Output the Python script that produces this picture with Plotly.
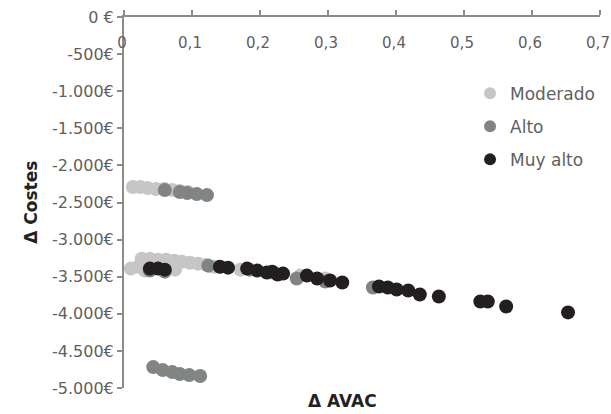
import plotly.graph_objects as go

# Data
mod_x = [0.013, 0.024, 0.035, 0.047, 0.059, 0.071, 0.082, 0.094,
         0.010, 0.021, 0.026, 0.038, 0.050, 0.062, 0.074, 0.085, 0.097, 0.109, 0.121,
         0.031, 0.075, 0.132, 0.171, 0.215, 0.259, 0.296]
mod_y = [-2292, -2292, -2306, -2319, -2319, -2333, -2346, -2359,
         -3391, -3365, -3257, -3257, -3271, -3271, -3284, -3298, -3311, -3324, -3338,
         -3418, -3405, -3365, -3405, -3445, -3485, -3525]

alto_x = [0.060, 0.082, 0.093, 0.107, 0.122,
          0.038, 0.060, 0.124, 0.185, 0.254, 0.296, 0.366,
          0.043, 0.057, 0.071, 0.082, 0.096, 0.112]
alto_y = [-2332, -2359, -2373, -2386, -2400,
          -3418, -3432, -3351, -3405, -3525, -3566, -3646,
          -4718, -4759, -4786, -4812, -4826, -4839]

muy_x = [0.038, 0.050, 0.060, 0.141, 0.153, 0.181, 0.196, 0.210, 0.218, 0.226, 0.234,
         0.269, 0.284, 0.303, 0.321, 0.375, 0.388, 0.401, 0.418, 0.435, 0.463,
         0.524, 0.535, 0.562, 0.653]
muy_y = [-3391, -3391, -3405, -3365, -3378, -3391, -3418, -3445, -3432, -3472, -3458,
         -3485, -3525, -3552, -3579, -3633, -3646, -3673, -3686, -3740, -3767,
         -3834, -3834, -3901, -3981]

x_ticks = [0, 0.1, 0.2, 0.3, 0.4, 0.5, 0.6, 0.7]
x_ticktext = ["0", "0,1", "0,2", "0,3", "0,4", "0,5", "0,6", "0,7"]
y_ticks = [0, -500, -1000, -1500, -2000, -2500, -3000, -3500, -4000, -4500, -5000]
y_ticktext = ["0 €", "-500€", "-1.000€", "-1.500€", "-2.000€", "-2.500€", "-3.000€",
              "-3.500€", "-4.000€", "-4.500€", "-5.000€"]

FONT = "DejaVu Sans"
TXT = "#5f5f5f"
AX = "#8c8c8c"

fig = go.Figure()
fig.add_trace(go.Scatter(x=mod_x, y=mod_y, mode="markers", name="Moderado", legendgroup="a",
                         marker=dict(size=14, color="#c6c6c6")))
fig.add_trace(go.Scatter(x=alto_x, y=alto_y, mode="markers", name="Alto", legendgroup="b",
                         marker=dict(size=14, color="#808482")))
fig.add_trace(go.Scatter(x=muy_x, y=muy_y, mode="markers", name="Muy alto", legendgroup="c",
                         marker=dict(size=14, color="#231f20")))

fig.update_layout(
    width=611, height=414,
    margin=dict(l=124, r=11, t=17, b=26, autoexpand=False),
    paper_bgcolor="white", plot_bgcolor="white",
    font=dict(family=FONT, color=TXT, size=16),
    showlegend=True,
    legend=dict(x=0.727, y=0.842, xanchor="left", yanchor="top",
                font=dict(size=17, color=TXT), itemsizing="constant",
                bgcolor="rgba(0,0,0,0)", tracegroupgap=8),
    xaxis=dict(range=[0, 0.7], side="top", tickvals=x_ticks, ticktext=x_ticktext,
               ticks="outside", ticklen=5, tickcolor=AX, tickwidth=2, automargin=False,
               showline=True, linecolor=AX, linewidth=2, showgrid=False, zeroline=False,
               ticklabelposition="inside", ticklabelstandoff=20, ticklabeloverflow="allow",
               ticklabelshift=-2,
               tickfont=dict(size=15, color=TXT)),
    yaxis=dict(range=[-5000, 0], tickvals=y_ticks, ticktext=y_ticktext,
               ticks="outside", ticklen=5, tickcolor=AX, tickwidth=2, automargin=False,
               showline=True, linecolor=AX, linewidth=2, showgrid=False, zeroline=False,
               ticklabeloverflow="allow",
               tickfont=dict(size=16, color=TXT)),
    annotations=[
        dict(text="<b>Δ Costes</b>", xref="paper", yref="paper", x=-0.197, y=0.5,
             textangle=-90, showarrow=False, font=dict(size=17, color="#222222", family=FONT),
             xanchor="center", yanchor="middle"),
        dict(text="<b>Δ AVAC</b>", xref="paper", yref="paper", x=0.46, y=-0.034,
             showarrow=False, font=dict(size=17, color="#222222", family=FONT),
             xanchor="center", yanchor="middle"),
    ],
)

fig.write_html("out.html")
